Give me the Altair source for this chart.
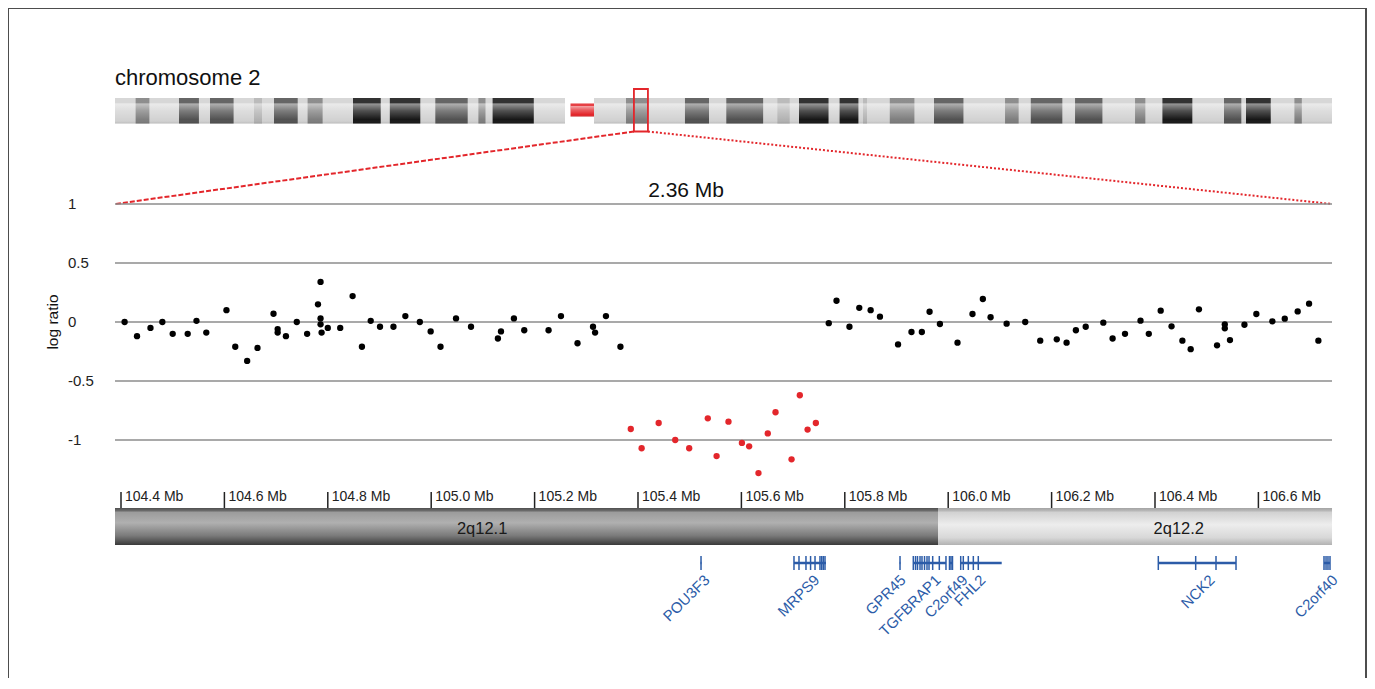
import altair as alt
import pandas as pd

# ---------------- data ----------------
chrom_title = "chromosome 2"
span_label = "2.36 Mb"
yaxis_title = "log ratio"

# ideogram of chromosome 2 (chromosome coordinate, Mb)
arm_start = [0.0, 95.72]
arm_end = [89.93, 243.2]
cen_start = [91.03]
cen_end = [95.72]
band_start = [4.12, 12.79, 18.98, 27.78, 31.77, 38.49, 47.56, 54.92, 64.01, 72.62, 75.46,
              102.12, 113.9, 122.16, 132.37, 136.69, 144.80, 149.48, 154.83, 163.67, 177.86,
              183.01, 191.85, 203.84, 209.31, 221.62, 226.02, 235.69]
band_end = [6.87, 16.77, 23.70, 29.38, 36.51, 41.49, 53.10, 61.01, 70.48, 74.04, 83.69,
            106.43, 118.7, 129.52, 134.83, 142.59, 148.56, 150.28, 159.75, 169.55, 180.58,
            189.31, 197.32, 205.90, 215.29, 225.08, 230.96, 237.17]
band_stain = ["gpos50", "gpos75", "gpos75", "gpos25", "gpos75", "gpos50", "gpos100", "gpos100",
              "gpos75", "gpos50", "gpos100", "gpos50", "gpos75", "gpos75", "gpos25", "gpos100",
              "gpos100", "gpos25", "gpos50", "gpos75", "gpos50", "gpos75", "gpos75", "gpos50",
              "gpos100", "gpos75", "gpos100", "gpos50"]
stain_levels = ["gpos25", "gpos50", "gpos75", "gpos100"]
stain_colors = ["#b2b2b2", "#7e7e7e", "#515151", "#161616"]
box_start = [103.7]
box_end = [106.5]

# zoomed region (Mb) and log ratios
black_mb = [104.407, 104.431, 104.457, 104.480, 104.500, 104.529, 104.546, 104.565, 104.604,
            104.621, 104.644, 104.664, 104.695, 104.703, 104.703, 104.719, 104.740, 104.760,
            104.781, 104.786, 104.786, 104.786, 104.788, 104.800, 104.824, 104.848, 104.866,
            104.883, 104.901, 104.927, 104.950, 104.978, 104.999, 105.018, 105.048, 105.077,
            105.129, 105.135, 105.160, 105.180, 105.227, 105.251, 105.283, 105.313, 105.317,
            105.338, 105.366,
            105.769, 105.784, 105.809, 105.828, 105.850, 105.868, 105.903, 105.929, 105.949,
            105.964, 105.984, 106.018, 106.047, 106.067, 106.082, 106.113, 106.149, 106.178,
            106.210, 106.229, 106.247, 106.266, 106.300, 106.318, 106.342, 106.372, 106.388,
            106.411, 106.432, 106.453, 106.469, 106.485, 106.520, 106.535, 106.535, 106.545,
            106.573, 106.596, 106.627, 106.651, 106.676, 106.698, 106.716]
black_lr = [0.00, -0.12, -0.05, 0.00, -0.10, -0.10, 0.01, -0.09, 0.10,
            -0.21, -0.33, -0.22, 0.07, -0.06, -0.09, -0.12, 0.00, -0.10,
            0.15, 0.34, 0.03, -0.02, -0.09, -0.05, -0.05, 0.22, -0.21,
            0.01, -0.04, -0.04, 0.05, 0.00, -0.08, -0.21, 0.03, -0.04,
            -0.14, -0.08, 0.03, -0.07, -0.07, 0.05, -0.18, -0.04, -0.09,
            0.05, -0.21,
            -0.01, 0.18, -0.04, 0.12, 0.10, 0.045, -0.19, -0.085, -0.085,
            0.087, -0.017, -0.175, 0.068, 0.195, 0.04, -0.014, 0.00, -0.158,
            -0.147, -0.175, -0.07, -0.04, -0.006, -0.14, -0.10, 0.011, -0.10,
            0.096, -0.037, -0.158, -0.23, 0.107, -0.198, -0.02, -0.054, -0.153,
            -0.023, 0.068, 0.006, 0.028, 0.09, 0.155, -0.158]
red_mb = [105.386, 105.407, 105.440, 105.472, 105.499, 105.535, 105.552, 105.575, 105.601,
          105.615, 105.633, 105.651, 105.666, 105.697, 105.713, 105.728, 105.744]
red_lr = [-0.907, -1.07, -0.856, -1.00, -1.07, -0.816, -1.136, -0.845, -1.025,
          -1.054, -1.28, -0.944, -0.765, -1.164, -0.621, -0.912, -0.856]

grid_values = [1, 0.5, 0, -0.5, -1]
grid_labels = ["1", "0.5", "0", "-0.5", "-1"]

tick_mb = [104.4, 104.6, 104.8, 105.0, 105.2, 105.4, 105.6, 105.8, 106.0, 106.2, 106.4, 106.6]
tick_labels = ["104.4 Mb", "104.6 Mb", "104.8 Mb", "105.0 Mb", "105.2 Mb", "105.4 Mb",
               "105.6 Mb", "105.8 Mb", "106.0 Mb", "106.2 Mb", "106.4 Mb", "106.6 Mb"]

cyto_names = ["2q12.1", "2q12.2"]
cyto_start = [104.3884, 105.9803]
cyto_end = [105.9803, 106.7424]
cyto_label_mb = [105.0985, 106.446]

gene_names = ["POU3F3", "MRPS9", "GPR45", "TGFBRAP1", "C2orf49", "FHL2", "NCK2", "C2orf40"]
gene_start = [105.5210, 105.7017, 105.9060, 105.9325, 106.0021, 106.0242, 106.4064, 106.7269]
gene_end = [105.5228, 105.7636, 105.9076, 105.9957, 106.0087, 106.1035, 106.5567, 106.7385]
gene_label_mb = [105.5335, 105.7462, 105.9126, 105.9803, 106.0325, 106.0673, 106.5103, 106.7482]
exons = {
    "POU3F3": [105.5219],
    "MRPS9": [105.7017, 105.7114, 105.7249, 105.7338, 105.7424, 105.7520, 105.7553, 105.7584, 105.7617],
    "GPR45": [105.9068],
    "TGFBRAP1": [105.9325, 105.9368, 105.9406, 105.9455, 105.9493, 105.9542, 105.9590, 105.9629,
                 105.9700, 105.9828, 105.9957],
    "C2orf49": [106.0025, 106.0054, 106.0083],
    "FHL2": [106.0242, 106.0292, 106.0389, 106.0486, 106.0582],
    "NCK2": [106.4064, 106.4787, 106.5180, 106.5567],
    "C2orf40": [106.7269, 106.7308, 106.7346, 106.7385],
}

# ---------------- layout ----------------
FONT = "Liberation Sans"
W, H = 1359, 670
XZ = alt.Scale(domain=[104.18143, 106.81006], nice=False, zero=False)
XI = alt.Scale(domain=[-21.3824, 250.195], nice=False, zero=False)
YS = alt.Scale(domain=[-3.01695, 2.66102], nice=False, zero=False)

# vertical positions of the tracks (in the units of the shared vertical scale)
Y_TITLE = 2.0127
Y_CHR_TOP, Y_CHR_BOT = 1.8983, 1.6822
Y_CEN_TOP, Y_CEN_BOT = 1.8517, 1.7415
Y_BOX_TOP, Y_BOX_BOT = 1.9746, 1.6144
Y_SPAN = 1.0593
Y_TICK_TOP, Y_TICK_BOT = -1.4407, -1.5763
Y_TICKLAB = -1.5169
Y_BAND_TOP, Y_BAND_BOT = -1.5763, -1.8898
Y_BANDLAB = -1.7542
Y_GENE = -2.0424
Y_EXON_TOP, Y_EXON_BOT = -1.9831, -2.1017
Y_GENELAB = -2.165


def xz(f):
    return alt.X(f, type="quantitative", scale=XZ, axis=None)


def xi(f):
    return alt.X(f, type="quantitative", scale=XI, axis=None)


def yq(f):
    return alt.Y(f, type="quantitative", scale=YS, axis=None)


def yd(v):
    return alt.YDatum(v, type="quantitative", scale=YS, axis=None)


one = pd.DataFrame({"k": [0]})
arms_df = pd.DataFrame({"start": arm_start, "end": arm_end})
cen_df = pd.DataFrame({"start": cen_start, "end": cen_end})
bands_df = pd.DataFrame({"start": band_start, "end": band_end, "stain": band_stain})
box_df = pd.DataFrame({"start": box_start, "end": box_end})
conn_left = pd.DataFrame({"a": [box_start[0]], "b": [arm_start[0]], "ya": [Y_BOX_BOT], "yb": [grid_values[0]]})
conn_right = pd.DataFrame({"a": [box_end[0]], "b": [arm_end[-1]], "ya": [Y_BOX_BOT], "yb": [grid_values[0]]})
black_df = pd.DataFrame({"mb": black_mb, "lr": black_lr})
red_df = pd.DataFrame({"mb": red_mb, "lr": red_lr})
grid_df = pd.DataFrame({"v": grid_values, "label": grid_labels})
tick_df = pd.DataFrame({"mb": tick_mb, "label": tick_labels})
cyto_df = pd.DataFrame({"name": cyto_names, "start": cyto_start, "end": cyto_end, "lab": cyto_label_mb})
gene_df = pd.DataFrame({"name": gene_names, "start": gene_start, "end": gene_end, "lab": gene_label_mb})
exon_df = pd.DataFrame([{"gene": g, "mb": m} for g, ms in exons.items() for m in ms])


def grad(stops):
    return {"gradient": "linear", "x1": 0, "y1": 0, "x2": 0, "y2": 1,
            "stops": [{"offset": o, "color": c} for o, c in stops]}


SHINE = grad([(0, "rgba(255,255,255,0.12)"), (0.19, "rgba(255,255,255,0.12)"),
              (0.23, "rgba(255,255,255,0.55)"), (0.5, "rgba(255,255,255,0.25)"),
              (0.85, "rgba(255,255,255,0)"), (1, "rgba(0,0,0,0.12)")])
DARK_BAND = grad([(0, "#505050"), (0.07, "#6a6a6a"), (0.12, "#9c9c9c"), (0.4, "#b0b0b0"),
                  (0.75, "#7a7a7a"), (1, "#3a3a3a")])
LIGHT_BAND = grad([(0, "#a4a4a4"), (0.07, "#b6b6b6"), (0.12, "#d2d2d2"), (0.45, "#ededed"),
                   (0.8, "#d8d8d8"), (1, "#b2b2b2")])

RED = "#e3262b"
BLUE = "#2c5ca8"

layers = []

# frame (left, top, right)
frame = alt.Chart(one)
layers += [
    frame.mark_rule(color="#4d4d4d", strokeWidth=2).encode(x=alt.value(0), y=alt.value(0), y2=alt.value(H)),
    frame.mark_rule(color="#4d4d4d", strokeWidth=2).encode(x=alt.value(0), x2=alt.value(W), y=alt.value(0)),
    frame.mark_rule(color="#4d4d4d", strokeWidth=2).encode(x=alt.value(W - 1), y=alt.value(0), y2=alt.value(H)),
]

# ideogram
layers += [
    alt.Chart(arms_df).mark_rect(fill="#d2d2d2").encode(
        x=xi("start"), x2="end", y=yd(Y_CHR_TOP), y2=alt.Y2Datum(Y_CHR_BOT)),
    alt.Chart(bands_df).mark_rect().encode(
        x=xi("start"), x2="end", y=yd(Y_CHR_TOP), y2=alt.Y2Datum(Y_CHR_BOT),
        color=alt.Color("stain:N", scale=alt.Scale(domain=stain_levels, range=stain_colors), legend=None)),
    alt.Chart(arms_df).mark_rect(fill=SHINE).encode(
        x=xi("start"), x2="end", y=yd(Y_CHR_TOP), y2=alt.Y2Datum(Y_CHR_BOT)),
    alt.Chart(cen_df).mark_rect(fill=RED).encode(
        x=xi("start"), x2="end", y=yd(Y_CEN_TOP), y2=alt.Y2Datum(Y_CEN_BOT)),
    alt.Chart(cen_df).mark_rect(fill=SHINE).encode(
        x=xi("start"), x2="end", y=yd(Y_CEN_TOP), y2=alt.Y2Datum(Y_CEN_BOT)),
    alt.Chart(box_df).mark_rect(filled=False, color=RED, strokeWidth=1.8).encode(
        x=xi("start"), x2="end", y=yd(Y_BOX_TOP), y2=alt.Y2Datum(Y_BOX_BOT)),
    alt.Chart(conn_left).mark_rule(color=RED, strokeWidth=2, strokeDash=[5, 2]).encode(
        x=xi("a"), x2="b", y=yq("ya"), y2="yb"),
    alt.Chart(conn_right).mark_rule(color=RED, strokeWidth=2, strokeDash=[2, 2]).encode(
        x=xi("a"), x2="b", y=yq("ya"), y2="yb"),
    alt.Chart(one).mark_text(text=chrom_title, align="left", baseline="alphabetic", fontSize=22,
                             font=FONT, color="#111111").encode(
        x=alt.XDatum(arm_start[0], scale=XI, axis=None), y=yd(Y_TITLE)),
]

# zoomed log-ratio panel
layers += [
    alt.Chart(grid_df).mark_rule(color="#8c8c8c", strokeWidth=1.5).encode(
        x=alt.XDatum(cyto_start[0], scale=XZ, axis=None), x2=alt.X2Datum(cyto_end[-1]), y=yq("v")),
    alt.Chart(grid_df).mark_text(align="left", baseline="middle", fontSize=15, font=FONT,
                                 color="#222222").encode(x=alt.value(60), y=yq("v"), text="label:N"),
    alt.Chart(one).mark_text(text=yaxis_title, angle=270, align="center", baseline="middle",
                             fontSize=15.5, font=FONT, color="#111111").encode(x=alt.value(45), y=yd(0)),
    alt.Chart(one).mark_text(text=span_label, align="center", baseline="alphabetic", fontSize=21,
                             font=FONT, color="#111111").encode(
        x=alt.XDatum(105.493, scale=XZ, axis=None), y=yd(Y_SPAN)),
    alt.Chart(black_df).mark_circle(size=40, color="#000000", opacity=1).encode(x=xz("mb"), y=yq("lr")),
    alt.Chart(red_df).mark_circle(size=40, color=RED, opacity=1).encode(x=xz("mb"), y=yq("lr")),
]

# position ruler and cytobands
layers += [
    alt.Chart(tick_df).mark_rule(color="#222222", strokeWidth=1.5).encode(
        x=xz("mb"), y=yd(Y_TICK_TOP), y2=alt.Y2Datum(Y_TICK_BOT)),
    alt.Chart(tick_df).mark_text(align="left", baseline="alphabetic", dx=4, fontSize=14, font=FONT,
                                 color="#222222").encode(x=xz("mb"), y=yd(Y_TICKLAB), text="label:N"),
    alt.Chart(cyto_df[cyto_df["name"] == cyto_names[0]]).mark_rect(fill=DARK_BAND).encode(
        x=xz("start"), x2="end", y=yd(Y_BAND_TOP), y2=alt.Y2Datum(Y_BAND_BOT)),
    alt.Chart(cyto_df[cyto_df["name"] == cyto_names[1]]).mark_rect(fill=LIGHT_BAND).encode(
        x=xz("start"), x2="end", y=yd(Y_BAND_TOP), y2=alt.Y2Datum(Y_BAND_BOT)),
    alt.Chart(cyto_df).mark_text(align="center", baseline="middle", fontSize=16.5, font=FONT,
                                 color="#1a1a1a").encode(x=xz("lab"), y=yd(Y_BANDLAB), text="name:N"),
]

# genes
layers += [
    alt.Chart(gene_df).mark_rule(color=BLUE, strokeWidth=2.5).encode(
        x=xz("start"), x2="end", y=yd(Y_GENE)),
    alt.Chart(exon_df).mark_rule(color=BLUE, strokeWidth=1.5).encode(
        x=xz("mb"), y=yd(Y_EXON_TOP), y2=alt.Y2Datum(Y_EXON_BOT)),
    alt.Chart(gene_df).mark_text(align="right", baseline="middle", angle=315, fontSize=15, font=FONT,
                                 color=BLUE).encode(x=xz("lab"), y=yd(Y_GENELAB), text="name:N"),
]

chart = alt.layer(*layers).resolve_scale(x="independent").properties(
    width=W, height=H, padding=0, autosize=alt.AutoSizeParams(type="none"),
    background="white",
).configure_view(stroke=None)

chart.save("out.html", embed_options={"renderer": "svg", "actions": False})
